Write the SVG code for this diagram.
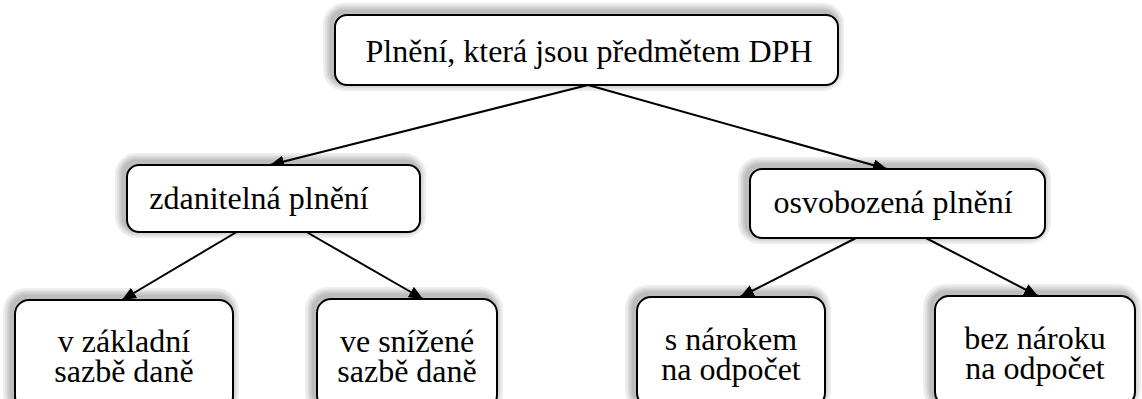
<svg xmlns="http://www.w3.org/2000/svg" width="1142" height="399" viewBox="0 0 1142 399">
  <defs>
    <marker id="arrow" viewBox="0 0 14 12" refX="14" refY="6" markerWidth="14" markerHeight="12" markerUnits="userSpaceOnUse" orient="auto">
      <path d="M0,0 L14,6 L0,12 z" fill="#000"/>
    </marker>
  </defs>
  <style>
    .box { fill: #fff; stroke: #000; stroke-width: 2; }
    /* stacked translucent outlines give each box a soft grey halo */
    .halo rect { fill: none; stroke: #000; stroke-opacity: 0.07; }
    .h1 { stroke-width: 18; }
    .h2 { stroke-width: 13; }
    .h3 { stroke-width: 9; }
    .h4 { stroke-width: 5; }
    .edge { stroke: #000; stroke-width: 2; fill: none; marker-end: url(#arrow); }
    .label { font-family: "Liberation Serif", "Times New Roman", serif; font-size: 32px; fill: #000; text-anchor: middle; }
  </style>
  <rect width="1142" height="399" fill="#fff"/>

  <g id="connectors">
    <line class="edge" x1="588" y1="85" x2="270" y2="165"/>
    <line class="edge" x1="588" y1="85" x2="887" y2="169"/>
    <line class="edge" x1="240" y1="230" x2="122" y2="300"/>
    <line class="edge" x1="303" y1="230" x2="423" y2="299"/>
    <line class="edge" x1="860" y1="236" x2="740" y2="297"/>
    <line class="edge" x1="922" y1="236" x2="1038" y2="296"/>
  </g>

  <g id="node-root">
    <g class="halo"><rect class="h1" x="332" y="12" width="503" height="70" rx="12"/><rect class="h2" x="332" y="12" width="503" height="70" rx="12"/><rect class="h3" x="332" y="12" width="503" height="70" rx="12"/><rect class="h4" x="332" y="12" width="503" height="70" rx="12"/></g>
    <rect class="box" x="335" y="15" width="503" height="70" rx="12"/>
    <text class="label" x="589" y="62">Plnění, která jsou předmětem DPH</text>
  </g>

  <g id="node-zdanitelna">
    <g class="halo"><rect class="h1" x="124" y="162" width="293" height="67" rx="12"/><rect class="h2" x="124" y="162" width="293" height="67" rx="12"/><rect class="h3" x="124" y="162" width="293" height="67" rx="12"/><rect class="h4" x="124" y="162" width="293" height="67" rx="12"/></g>
    <rect class="box" x="127" y="165" width="293" height="67" rx="12"/>
    <text class="label" x="259" y="209">zdanitelná plnění</text>
  </g>

  <g id="node-osvobozena">
    <g class="halo"><rect class="h1" x="747" y="166" width="295" height="69" rx="12"/><rect class="h2" x="747" y="166" width="295" height="69" rx="12"/><rect class="h3" x="747" y="166" width="295" height="69" rx="12"/><rect class="h4" x="747" y="166" width="295" height="69" rx="12"/></g>
    <rect class="box" x="750" y="169" width="295" height="69" rx="12"/>
    <text class="label" x="893" y="213">osvobozená plnění</text>
  </g>

  <g id="node-zakladni">
    <g class="halo"><rect class="h1" x="12" y="297" width="218" height="110" rx="14"/><rect class="h2" x="12" y="297" width="218" height="110" rx="14"/><rect class="h3" x="12" y="297" width="218" height="110" rx="14"/><rect class="h4" x="12" y="297" width="218" height="110" rx="14"/></g>
    <rect class="box" x="15" y="300" width="218" height="110" rx="14"/>
    <text class="label" x="124" y="352">v základní<tspan x="124" dy="30">sazbě daně</tspan></text>
  </g>

  <g id="node-snizena">
    <g class="halo"><rect class="h1" x="314" y="296" width="180" height="110" rx="14"/><rect class="h2" x="314" y="296" width="180" height="110" rx="14"/><rect class="h3" x="314" y="296" width="180" height="110" rx="14"/><rect class="h4" x="314" y="296" width="180" height="110" rx="14"/></g>
    <rect class="box" x="317" y="299" width="180" height="110" rx="14"/>
    <text class="label" x="407" y="352">ve snížené<tspan x="407" dy="30">sazbě daně</tspan></text>
  </g>

  <g id="node-s-narokem">
    <g class="halo"><rect class="h1" x="634" y="294" width="188" height="110" rx="14"/><rect class="h2" x="634" y="294" width="188" height="110" rx="14"/><rect class="h3" x="634" y="294" width="188" height="110" rx="14"/><rect class="h4" x="634" y="294" width="188" height="110" rx="14"/></g>
    <rect class="box" x="637" y="297" width="188" height="110" rx="14"/>
    <text class="label" x="731" y="350">s nárokem<tspan x="731" dy="30">na odpočet</tspan></text>
  </g>

  <g id="node-bez-naroku">
    <g class="halo"><rect class="h1" x="932" y="293" width="200" height="110" rx="14"/><rect class="h2" x="932" y="293" width="200" height="110" rx="14"/><rect class="h3" x="932" y="293" width="200" height="110" rx="14"/><rect class="h4" x="932" y="293" width="200" height="110" rx="14"/></g>
    <rect class="box" x="935" y="296" width="200" height="110" rx="14"/>
    <text class="label" x="1035" y="349">bez nároku<tspan x="1035" dy="30">na odpočet</tspan></text>
  </g>
</svg>
